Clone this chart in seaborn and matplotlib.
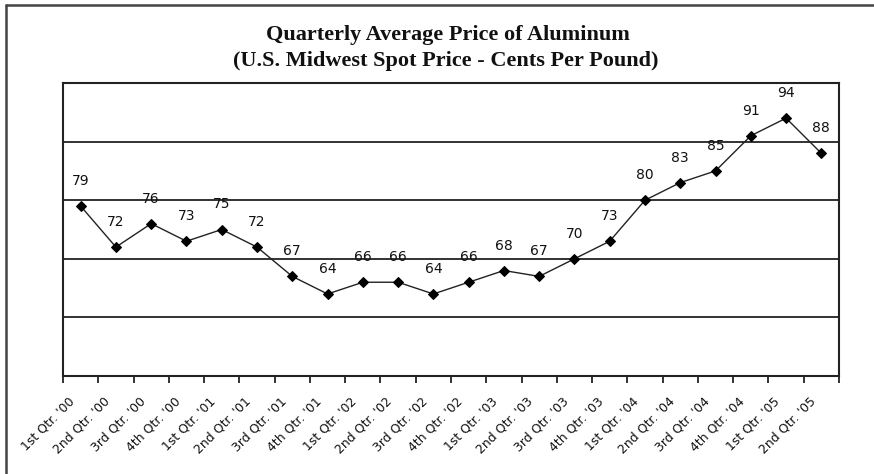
import numpy as np
import pandas as pd
import matplotlib
matplotlib.use("Agg")
import matplotlib.pyplot as plt
import matplotlib.transforms as mtransforms
import seaborn as sns
from matplotlib.lines import Line2D
from matplotlib.ticker import FixedLocator

sns.set_theme(style="white")

# quarterly data (cents per pound)
quarters = ["1st Qtr. '00", "2nd Qtr. '00", "3rd Qtr. '00", "4th Qtr. '00",
            "1st Qtr. '01", "2nd Qtr. '01", "3rd Qtr. '01", "4th Qtr. '01",
            "1st Qtr. '02", "2nd Qtr. '02", "3rd Qtr. '02", "4th Qtr. '02",
            "1st Qtr. '03", "2nd Qtr. '03", "3rd Qtr. '03", "4th Qtr. '03",
            "1st Qtr. '04", "2nd Qtr. '04", "3rd Qtr. '04", "4th Qtr. '04",
            "1st Qtr. '05", "2nd Qtr. '05"]
prices = [79, 72, 76, 73, 75, 72, 67, 64, 66, 66, 64, 66,
          68, 67, 70, 73, 80, 83, 85, 91, 94, 88]
y_grid = [50, 60, 70, 80, 90, 100]

df = pd.DataFrame({"pos": np.arange(len(quarters)), "price": prices})

W, H = 874, 474
fig = plt.figure(figsize=(W / 100, H / 100), dpi=100)
ax = fig.add_axes([63 / W, 1 - 376 / H, (839 - 63) / W, (376 - 83) / H])

sns.lineplot(data=df, x="pos", y="price", ax=ax, color="#222222", linewidth=1.0,
             marker="D", markersize=5.5, markerfacecolor="black",
             markeredgecolor="black")

for i, v in enumerate(prices):
    ax.annotate(str(v), (i, v), xytext=(0, 18), textcoords="offset points",
                ha="center", va="center", fontsize=10, color="#111111",
                family="DejaVu Sans")

n = len(quarters)
ax.set_xlim(-0.5, n - 0.5)
ax.set_ylim(y_grid[0], y_grid[-1])
ax.set_yticks(y_grid)
ax.set_yticklabels([])
ax.tick_params(axis="y", length=0)
ax.grid(axis="y", color="#222222", linewidth=1.3)
ax.grid(axis="x", visible=False)

# ticks at category boundaries, labels at centers
ax.xaxis.set_major_locator(FixedLocator(np.arange(n + 1) - 0.5))
ax.xaxis.set_minor_locator(FixedLocator(np.arange(n)))
ax.set_xticklabels([], minor=False)
ax.set_xticklabels(quarters, minor=True, rotation=45, ha="right", va="center",
                   rotation_mode="anchor", fontsize=9, color="#111111")
ax.tick_params(axis="x", which="major", length=5, width=1.3, color="#222222",
               direction="out", bottom=True)
ax.tick_params(axis="x", which="minor", length=0, pad=14)
shift = mtransforms.ScaledTranslation(-8 / 100, -4 / 100, fig.dpi_scale_trans)
for lbl in ax.get_xticklabels(minor=True):
    lbl.set_transform(lbl.get_transform() + shift)
ax.set_xlabel("")
ax.set_ylabel("")

for s in ax.spines.values():
    s.set_color("#222222")
    s.set_linewidth(1.5)

fig.text(448 / W, 1 - 35 / H, "Quarterly Average Price of Aluminum",
         ha="center", va="center", fontsize=16, fontweight="bold",
         family="Liberation Serif", color="#111111")
fig.text(446 / W, 1 - 61 / H, "(U.S. Midwest Spot Price - Cents Per Pound)",
         ha="center", va="center", fontsize=16, fontweight="bold",
         family="Liberation Serif", color="#111111")

# outer chart frame (top and left edges visible)
fig.add_artist(Line2D([6 / W, 1], [1 - 5 / H, 1 - 5 / H], color="#444444",
                      linewidth=1.8, transform=fig.transFigure))
fig.add_artist(Line2D([6 / W, 6 / W], [0, 1 - 5 / H], color="#444444",
                      linewidth=1.8, transform=fig.transFigure))

fig.savefig("out.png", dpi=100)
